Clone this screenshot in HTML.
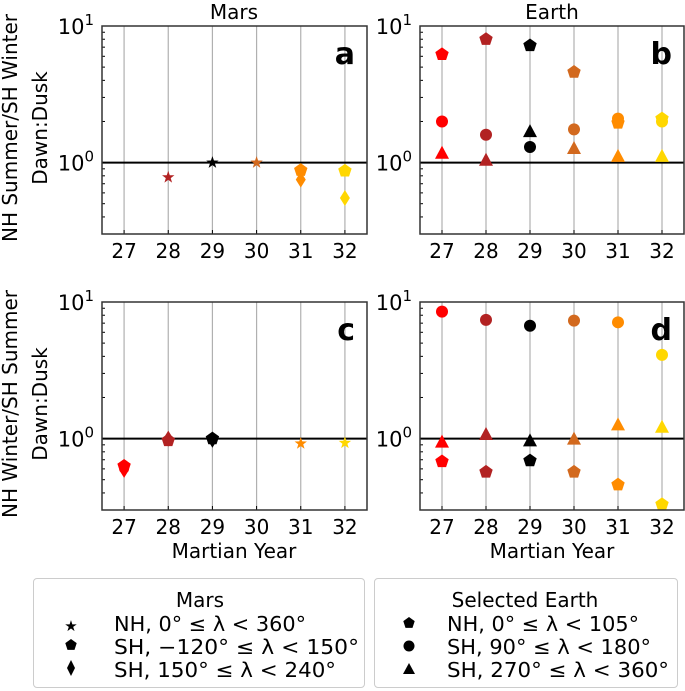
<!DOCTYPE html>
<html><head><meta charset="utf-8">
<style>
body{margin:0;background:#fff;font-family:"DejaVu Sans","Liberation Sans",sans-serif;}
svg{display:block}
.leg{position:absolute;border:1.5px solid #ccc;border-radius:4px;background:#fff;}
</style></head>
<body>
<div style="position:relative;width:685px;height:691px;overflow:hidden">
<svg id="chart" width="685" height="691"></svg>
<div class="leg" style="left:33px;top:578px;width:330px;height:108px">
<svg width="330" height="108">
<text x="166" y="28" font-size="20" text-anchor="middle">Mars</text>
<text x="37" y="52" font-size="15" text-anchor="middle">★</text>
<path transform="translate(37,66)" d="M0,-6L5.7,-1.9L3.5,4.9L-3.5,4.9L-5.7,-1.9Z"/>
<path transform="translate(37,89)" d="M0,-8L4,0L0,8L-4,0Z"/>
<text x="80" y="52" font-size="20" textLength="192" lengthAdjust="spacingAndGlyphs">NH, 0° ≤ λ &lt; 360°</text>
<text x="80" y="75" font-size="20" textLength="245" lengthAdjust="spacingAndGlyphs">SH, −120° ≤ λ &lt; 150°</text>
<text x="80" y="98" font-size="20" textLength="222" lengthAdjust="spacingAndGlyphs">SH, 150° ≤ λ &lt; 240°</text>
</svg></div>
<div class="leg" style="left:374px;top:578px;width:302px;height:108px">
<svg width="302" height="108">
<text x="150" y="28" font-size="20" text-anchor="middle">Selected Earth</text>
<path transform="translate(34,44)" d="M0,-6L5.7,-1.9L3.5,4.9L-3.5,4.9L-5.7,-1.9Z"/>
<circle cx="34" cy="67" r="5.5"/>
<path transform="translate(34,90)" d="M0,-6L6,5L-6,5Z"/>
<text x="72" y="52" font-size="20" textLength="192" lengthAdjust="spacingAndGlyphs">NH, 0° ≤ λ &lt; 105°</text>
<text x="72" y="75" font-size="20" textLength="204" lengthAdjust="spacingAndGlyphs">SH, 90° ≤ λ &lt; 180°</text>
<text x="72" y="98" font-size="20" textLength="222" lengthAdjust="spacingAndGlyphs">SH, 270° ≤ λ &lt; 360°</text>
</svg></div>
</div>
<script>
const years=[27,28,29,30,31,32];
const yearColors=['#ff0000','#b22222','#000000','#d2691e','#ff8c00','#ffd700'];
// panel a (Mars, NH summer)
const aStar=[null,0.78,1.0,1.0,null,null];
const aPent=[null,null,null,null,0.88,0.87];
const aDiam=[null,null,null,null,0.75,0.55];
// panel b (Earth, NH summer)
const bPent=[6.2,8.0,7.2,4.6,1.95,2.1];
const bCirc=[2.0,1.6,1.3,1.75,2.1,2.0];
const bTri=[1.18,1.05,1.7,1.28,1.12,1.12];
// panel c (Mars, NH winter)
const cStar=[null,null,null,null,0.92,0.93];
const cPent=[0.63,0.97,1.0,null,null,null];
const cDiam=[0.59,1.0,0.98,null,null,null];
// panel d (Earth, NH winter)
const dCirc=[8.5,7.4,6.7,7.3,7.1,4.1];
const dTri=[0.95,1.08,0.97,1.0,1.27,1.22];
const dPent=[0.68,0.57,0.69,0.57,0.46,0.33];
const yTicks=[1,10];
const yTickLabels=['0','1'];
const xTickLabels=['27','28','29','30','31','32'];

const NS='http://www.w3.org/2000/svg';
const svg=document.getElementById('chart');
function el(tag,attrs,parent){const e=document.createElementNS(NS,tag);for(const k in attrs)e.setAttribute(k,attrs[k]);(parent||svg).appendChild(e);return e;}
const YMIN=0.3,YMAX=10,XMIN=26.5,XMAX=32.5;
function makePanel(x0,y0,x1,y1,name,letter,series){
  const g=el('g',{});
  
  
  const sx=v=>x0+(v-XMIN)/(XMAX-XMIN)*(x1-x0);
  const sy=v=>y1-(Math.log10(v)-Math.log10(YMIN))/(Math.log10(YMAX)-Math.log10(YMIN))*(y1-y0);
  years.forEach((yr,i)=>{
    const l=el('line',{x1:sx(yr),x2:sx(yr),y1:y0,y2:y1,stroke:'#b0b0b0','stroke-width':1.2},g);
    
    
    el('line',{x1:sx(yr),x2:sx(yr),y1:y1,y2:y1-4,stroke:'#000','stroke-width':1},g);
    const t=el('text',{x:sx(yr),y:y1+24,'font-size':20,'text-anchor':'middle'},g);
    t.textContent=xTickLabels[i];
    
    
  });
  for(const m of [0.3,0.4,0.5,0.6,0.7,0.8,0.9,2,3,4,5,6,7,8,9]){
    el('line',{x1:x0,x2:x0+3,y1:sy(m),y2:sy(m),stroke:'#000','stroke-width':1},g);
  }
  yTicks.forEach((v,i)=>{
    el('line',{x1:x0,x2:x0+6,y1:sy(v),y2:sy(v),stroke:'#000','stroke-width':1},g);
    const t=el('text',{x:x0-8,y:sy(v)+8,'font-size':21,'text-anchor':'end'},g);
    t.textContent='10';
    const s=el('tspan',{dy:-9,'font-size':15},t);s.textContent=yTickLabels[i];
    
    
  });
  const ref=el('line',{x1:x0,x2:x1,y1:sy(1),y2:sy(1),stroke:'#000','stroke-width':2},g);
  
  
  series.forEach(([vals,shape])=>{
    vals.forEach((v,i)=>{
      if(v==null)return;
      const cx=sx(years[i]),cy=sy(v),c=yearColors[i];
      let m;
      if(shape==='circle')m=el('circle',{cx:cx,cy:cy,r:6,fill:c},g);
      else if(shape==='tri')m=el('path',{d:`M${cx},${cy-7}L${cx+7},${cy+6}L${cx-7},${cy+6}Z`,fill:c},g);
      else if(shape==='pent')m=el('path',{d:`M${cx},${cy-7}L${cx+6.7},${cy-2.2}L${cx+4.1},${cy+5.7}L${cx-4.1},${cy+5.7}L${cx-6.7},${cy-2.2}Z`,fill:c},g);
      else if(shape==='diam')m=el('path',{d:`M${cx},${cy-8}L${cx+5},${cy}L${cx},${cy+8}L${cx-5},${cy}Z`,fill:c},g);
      else{let p='';for(let k=0;k<10;k++){const r=k%2?2.6:6.5,a=-Math.PI/2+k*Math.PI/5;p+=(k?'L':'M')+(cx+r*Math.cos(a)).toFixed(2)+','+(cy+r*Math.sin(a)).toFixed(2);}m=el('path',{d:p+'Z',fill:c},g);}
      
      
    });
  });
  el('rect',{x:x0,y:y0,width:x1-x0,height:y1-y0,fill:'none',stroke:'#333','stroke-width':1.5},g);
  const L=el('text',{x:x1-12,y:y0+38,'font-size':30,'font-weight':'bold','text-anchor':'end'},g);
  L.textContent=letter;
  
  
}
makePanel(102,26,367,234,'panel-a','a',[[aStar,'star'],[aPent,'pent'],[aDiam,'diam']]);
makePanel(420,26,684,234,'panel-b','b',[[bPent,'pent'],[bCirc,'circle'],[bTri,'tri']]);
makePanel(102,302,367,510,'panel-c','c',[[cStar,'star'],[cPent,'pent'],[cDiam,'diam']]);
makePanel(420,302,684,510,'panel-d','d',[[dCirc,'circle'],[dTri,'tri'],[dPent,'pent']]);
function txt(x,y,s,size,name,rot){const t=el('text',{x:x,y:y,'font-size':size,'text-anchor':'middle'});if(rot)t.setAttribute('transform',`rotate(-90 ${x} ${y})`);t.textContent=s;}
txt(234,19,'Mars',20,'title-mars');
txt(552,19,'Earth',20,'title-earth');
txt(234,558,'Martian Year',20,'x-axis-title-left');
txt(552,558,'Martian Year',20,'x-axis-title-right');
txt(17,128,'NH Summer/SH Winter',20,'y-axis-title-top',true);
txt(47,128,'Dawn:Dusk',20,'y-axis-title-top-2',true);
txt(17,404,'NH Winter/SH Summer',20,'y-axis-title-bottom',true);
txt(47,404,'Dawn:Dusk',20,'y-axis-title-bottom-2',true);
</script>
</body></html>
